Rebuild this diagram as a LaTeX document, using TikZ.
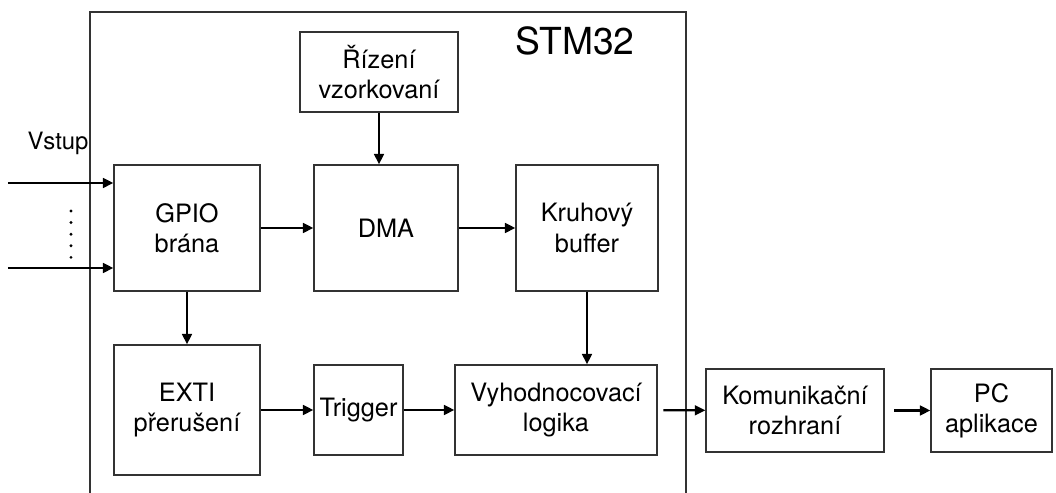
\documentclass[tikz,border=0pt]{standalone}
\usepackage{fontspec}
\setmainfont{TeX Gyre Heros}
\usetikzlibrary{arrows.meta}

\begin{document}
\begin{tikzpicture}[blk/.style={draw=black!80, line width=0.9pt, align=center, inner sep=0pt, font=\fontsize{18}{21.5}\selectfont},
  arr/.style={-{Triangle[length=7.5pt,width=7pt]}, line width=1.5pt}]
         \useasboundingbox (0,0) rectangle (26.4,12.325);
         \draw [draw=black!80, line width=0.9pt] (2.25,0) |- (17.15,12.025) -- (17.15,0);
         \node [font=\fontsize{26.5}{30}\selectfont] (MCU) at (14.375,11.3) {STM32};
         \node [font=\fontsize{17}{20}\selectfont] (IN) at (1.45,8.75) {Vstup};
         \node [blk, minimum width=3.95cm, minimum height=2cm] (RZ) at (9.475,10.525) {Řízení\\vzorkovaní};
         \node [blk, minimum width=3.65cm, minimum height=3.15cm] (GP) at (4.675,6.625) {GPIO\\brána};
         \node [blk, minimum width=3.6cm, minimum height=3.15cm] (DMA) at (9.65,6.625) {DMA};
         \node [blk, minimum width=3.55cm, minimum height=3.15cm] (KB) at (14.675,6.625) {Kruhový\\buffer};
         \node [blk, minimum width=3.65cm, minimum height=3.25cm] (EX) at (4.675,2.075) {EXTI\\přerušení};
         \node [blk, minimum width=2.225cm, minimum height=2.25cm] (TR) at (8.9625,2.075) {Trigger};
         \node [blk, minimum width=5.05cm, minimum height=2.25cm] (VL) at (13.9,2.075) {Vyhodnocovací\\logika};
         \node [blk, minimum width=4.45cm, minimum height=2.075cm] (KR) at (19.875,2.0625) {Komunikační\\rozhraní};
         \node [blk, minimum width=3.025cm, minimum height=2.075cm] (PC) at (24.7875,2.0625) {PC\\aplikace};
         \coordinate (I1) at (0.2,7.75);
         \coordinate (I2) at (0.2,5.625);
         \draw [arr] (I1) -- (GP.west |- I1);
         \draw [arr] (I2) -- (GP.west |- I2);
         \foreach \y in {0,...,4} \fill (1.775,7.05-\y*0.29) circle (0.04);
         \draw [arr] (RZ.south) -- (RZ.south |- DMA.north);
         \draw [arr] (GP) -- (DMA);
         \draw [arr] (DMA) -- (KB);
         \draw [arr] (GP) -- (EX);
         \draw [arr] (KB.south) -- (KB.south |- VL.north);
         \draw [arr] (EX) -- (TR);
         \draw [arr] (TR) -- (VL);
         \draw [arr, shorten <=4pt] (VL) -- (KR);
         \draw [arr, shorten <=7pt] (KR) -- (PC);
 \end{tikzpicture}
\end{document}
